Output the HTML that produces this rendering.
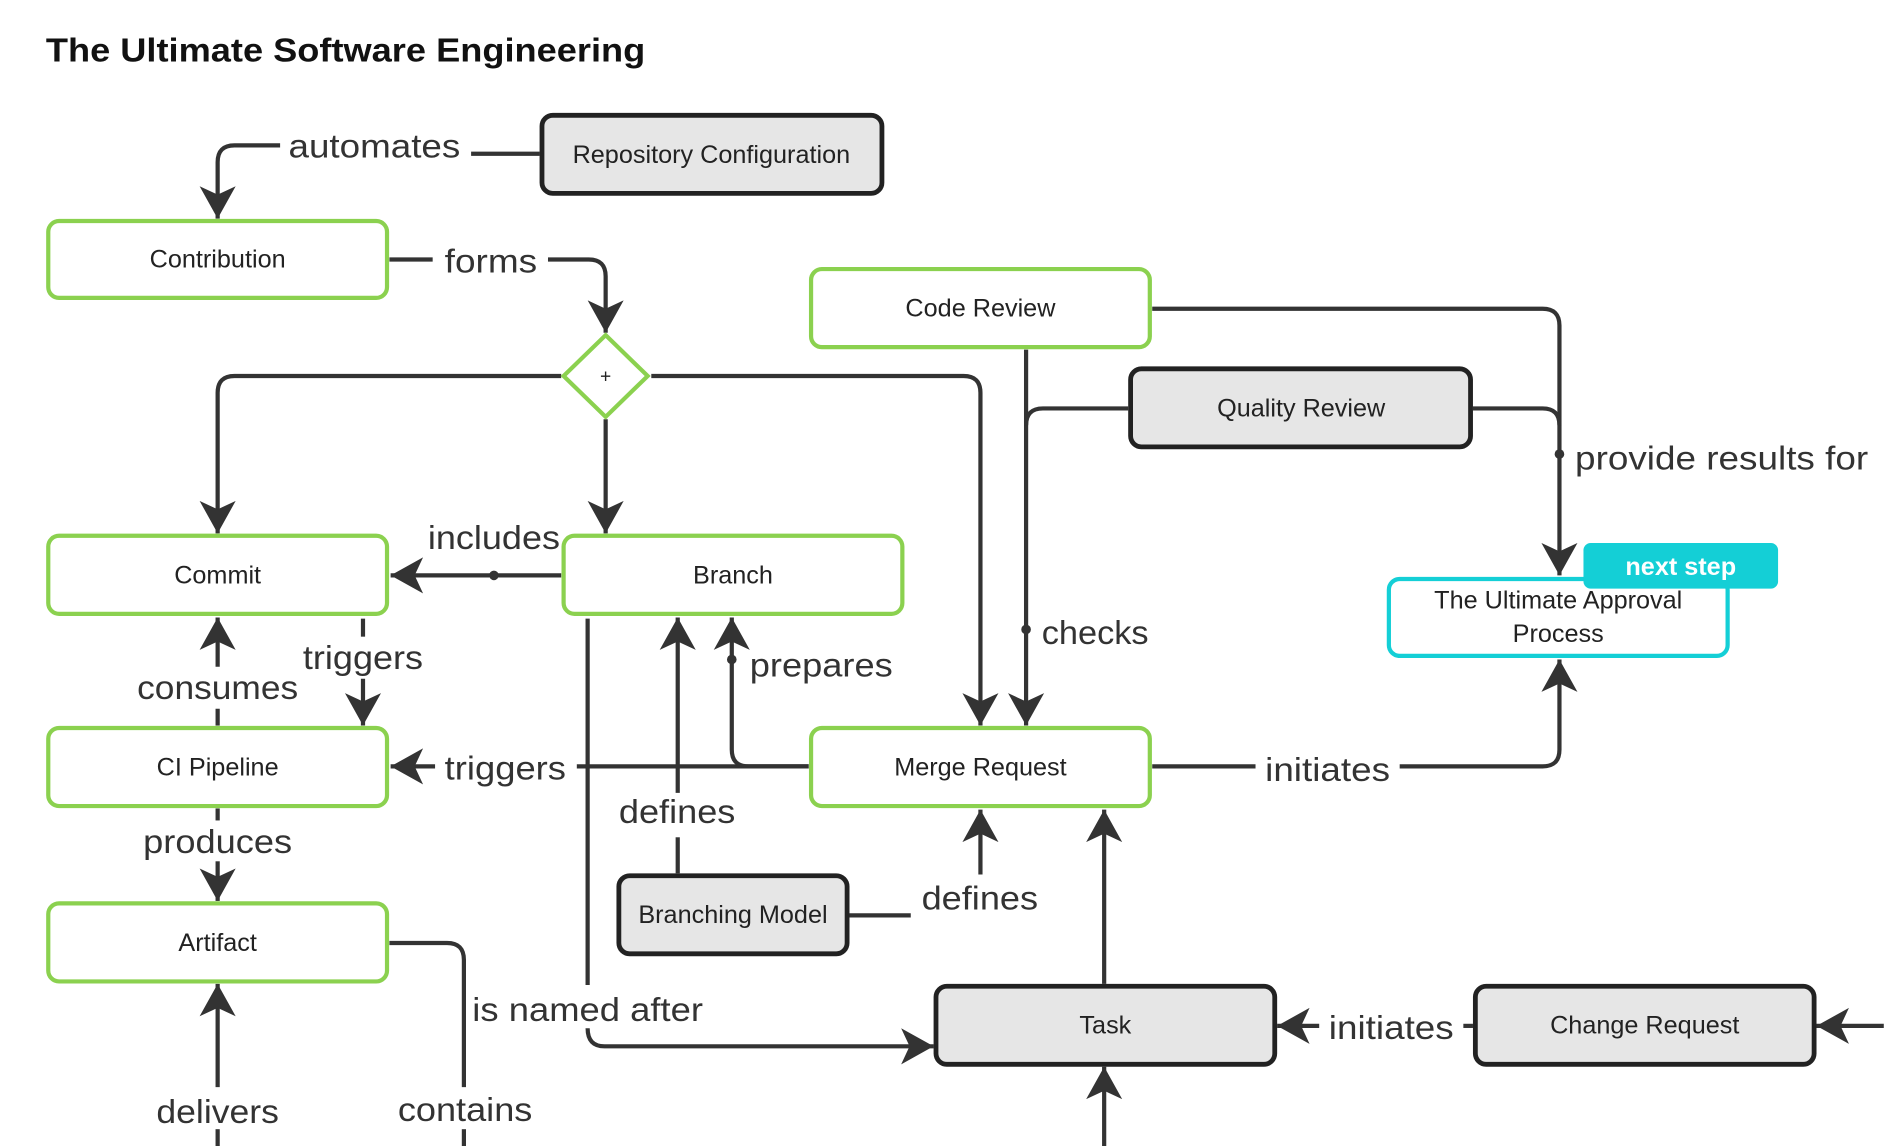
<!DOCTYPE html>
<html><head><meta charset="utf-8"><style>
html,body{margin:0;padding:0;background:#fff;}
svg{display:block;}
text{font-family:"Liberation Sans",sans-serif;fill:#222;}
.l{font-size:28px;fill:#333;}
.n{font-size:21px;text-anchor:middle;dominant-baseline:middle;}
.e{fill:none;stroke:#333;stroke-width:3.5;}
.g{fill:#fff;stroke:#8bd14f;stroke-width:3.5;}
.d{fill:#e6e6e6;stroke:#222;stroke-width:4;}
</style></head><body>
<svg width="1884" height="1146" viewBox="0 0 1568 954" xmlns="http://www.w3.org/2000/svg">
<defs>
<marker id="a" markerUnits="userSpaceOnUse" markerWidth="30" markerHeight="32" viewBox="0 0 30 32" refX="27" refY="16" orient="auto">
<path d="M0,1 L27,16 L0,31 L7,16 z" fill="#333"/>
</marker>
</defs>
<text x="38" y="51" textLength="499" lengthAdjust="spacingAndGlyphs" style="font-size:28px;font-weight:bold;fill:#111">The Ultimate Software Engineering</text>

<!-- edges -->
<path class="e" d="M449,128 H392"/>
<path class="e" d="M233,121 H195 Q181,121 181,135 V182" marker-end="url(#a)"/>
<text class="l" x="240" y="131" textLength="143" lengthAdjust="spacingAndGlyphs">automates</text>

<path class="e" d="M324,216 H360"/>
<path class="e" d="M456,216 H490 Q504,216 504,230 V277" marker-end="url(#a)"/>
<text class="l" x="370" y="227" textLength="77" lengthAdjust="spacingAndGlyphs">forms</text>

<path class="e" d="M467,313 H195 Q181,313 181,327 V444" marker-end="url(#a)"/>
<path class="e" d="M504,349 V444" marker-end="url(#a)"/>
<path class="e" d="M542,313 H802 Q816,313 816,327 V604" marker-end="url(#a)"/>

<path class="e" d="M467,479 H325" marker-end="url(#a)"/>
<circle cx="411" cy="479" r="4" fill="#333"/>
<text class="l" x="356" y="457" textLength="110" lengthAdjust="spacingAndGlyphs">includes</text>

<path class="e" d="M302,515 V530"/>
<path class="e" d="M302,565 V604" marker-end="url(#a)"/>
<text class="l" x="252" y="557" textLength="100" lengthAdjust="spacingAndGlyphs">triggers</text>

<path class="e" d="M181,604 V590"/>
<path class="e" d="M181,555 V514" marker-end="url(#a)"/>
<text class="l" x="114" y="582" textLength="134" lengthAdjust="spacingAndGlyphs">consumes</text>

<path class="e" d="M673,638 H480"/>
<path class="e" d="M362,638 H325" marker-end="url(#a)"/>
<text class="l" x="370" y="649" textLength="101" lengthAdjust="spacingAndGlyphs">triggers</text>

<path class="e" d="M673,638 H623 Q609,638 609,624 V514" marker-end="url(#a)"/>
<circle cx="609" cy="549" r="4" fill="#333"/>
<text class="l" x="624" y="563" textLength="119" lengthAdjust="spacingAndGlyphs">prepares</text>

<path class="e" d="M564,727 V697"/>
<path class="e" d="M564,660 V514" marker-end="url(#a)"/>
<text class="l" x="515" y="685" textLength="97" lengthAdjust="spacingAndGlyphs">defines</text>

<path class="e" d="M707,762 H758"/>
<path class="e" d="M816,728 V674" marker-end="url(#a)"/>
<text class="l" x="767" y="757" textLength="97" lengthAdjust="spacingAndGlyphs">defines</text>

<path class="e" d="M854,291 V604" marker-end="url(#a)"/>
<path class="e" d="M939,340 H868 Q854,340 854,354"/>
<circle cx="854" cy="524" r="4" fill="#333"/>
<text class="l" x="867" y="536" textLength="89" lengthAdjust="spacingAndGlyphs">checks</text>

<path class="e" d="M959,257 H1284 Q1298,257 1298,271 V479" marker-end="url(#a)"/>
<path class="e" d="M1226,340 H1284 Q1298,340 1298,354"/>
<circle cx="1298" cy="378" r="4" fill="#333"/>
<text class="l" x="1311" y="391" textLength="244" lengthAdjust="spacingAndGlyphs">provide results for</text>

<path class="e" d="M959,638 H1045"/>
<path class="e" d="M1165,638 H1284 Q1298,638 1298,624 V549" marker-end="url(#a)"/>
<text class="l" x="1053" y="650" textLength="104" lengthAdjust="spacingAndGlyphs">initiates</text>

<path class="e" d="M489,515 V820"/>
<path class="e" d="M489,856 Q489,871 503,871 H777" marker-end="url(#a)"/>
<text class="l" x="393" y="850" textLength="192" lengthAdjust="spacingAndGlyphs">is named after</text>

<path class="e" d="M919,819 V674" marker-end="url(#a)"/>

<path class="e" d="M1226,854 H1218"/>
<path class="e" d="M1098,854 H1063" marker-end="url(#a)"/>
<text class="l" x="1106" y="865" textLength="104" lengthAdjust="spacingAndGlyphs">initiates</text>

<path class="e" d="M1568,854 H1512" marker-end="url(#a)"/>
<path class="e" d="M919,954 V888" marker-end="url(#a)"/>

<path class="e" d="M324,785 H372 Q386,785 386,799 V905"/>
<path class="e" d="M386,940 V954"/>
<text class="l" x="331" y="933" textLength="112" lengthAdjust="spacingAndGlyphs">contains</text>

<path class="e" d="M181,954 V940"/>
<path class="e" d="M181,905 V819" marker-end="url(#a)"/>
<text class="l" x="130" y="935" textLength="102" lengthAdjust="spacingAndGlyphs">delivers</text>

<path class="e" d="M181,673 V683"/>
<path class="e" d="M181,717 V750" marker-end="url(#a)"/>
<text class="l" x="119" y="710" textLength="124" lengthAdjust="spacingAndGlyphs">produces</text>

<!-- nodes -->
<rect class="d" x="451" y="96" width="283" height="65" rx="9"/>
<text class="n" x="592" y="130">Repository Configuration</text>
<rect class="g" x="40" y="184" width="282" height="64" rx="9"/>
<text class="n" x="181" y="217">Contribution</text>
<rect class="g" x="675" y="224" width="282" height="65" rx="9"/>
<text class="n" x="816" y="258">Code Review</text>
<path d="M504,279 L539,313 L504,347 L469,313 Z" fill="#fff" stroke="#8bd14f" stroke-width="3.5"/>
<text class="n" x="504" y="314" style="font-size:16px">+</text>
<rect class="d" x="941" y="307" width="283" height="65" rx="9"/>
<text class="n" x="1083" y="341">Quality Review</text>
<rect class="g" x="40" y="446" width="282" height="65" rx="9"/>
<text class="n" x="181" y="480">Commit</text>
<rect class="g" x="469" y="446" width="282" height="65" rx="9"/>
<text class="n" x="610" y="480">Branch</text>
<rect x="1156" y="482" width="282" height="64" rx="9" fill="#fff" stroke="#14cfd6" stroke-width="3.5"/>
<text class="n" x="1297" y="501">The Ultimate Approval</text>
<text class="n" x="1297" y="529">Process</text>
<rect x="1318" y="452" width="162" height="38" rx="6" fill="#14cfd6"/>
<text x="1399" y="473" style="font-size:21px;font-weight:bold;fill:#fff;text-anchor:middle;dominant-baseline:middle">next step</text>
<rect class="g" x="40" y="606" width="282" height="65" rx="9"/>
<text class="n" x="181" y="640">CI Pipeline</text>
<rect class="g" x="675" y="606" width="282" height="65" rx="9"/>
<text class="n" x="816" y="640">Merge Request</text>
<rect class="d" x="515" y="729" width="190" height="65" rx="9"/>
<text class="n" x="610" y="763">Branching Model</text>
<rect class="g" x="40" y="752" width="282" height="65" rx="9"/>
<text class="n" x="181" y="786">Artifact</text>
<rect class="d" x="779" y="821" width="282" height="65" rx="9"/>
<text class="n" x="920" y="855">Task</text>
<rect class="d" x="1228" y="821" width="282" height="65" rx="9"/>
<text class="n" x="1369" y="855">Change Request</text>
</svg>
</body></html>
